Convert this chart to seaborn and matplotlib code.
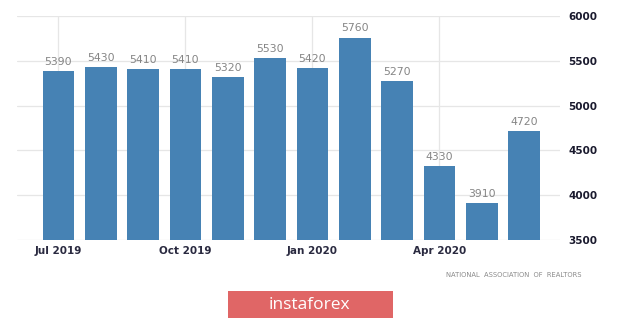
import matplotlib
matplotlib.use("Agg")
import matplotlib.pyplot as plt
import seaborn as sns
import pandas as pd
from matplotlib.patches import Rectangle

months = ["Jul 2019", "Aug 2019", "Sep 2019", "Oct 2019", "Nov 2019", "Dec 2019",
          "Jan 2020", "Feb 2020", "Mar 2020", "Apr 2020", "May 2020", "Jun 2020"]
values = [5390, 5430, 5410, 5410, 5320, 5530, 5420, 5760, 5270, 4330, 3910, 4720]
tick_months = ["Jul 2019", "Oct 2019", "Jan 2020", "Apr 2020"]
yticks = [3500, 4000, 4500, 5000, 5500, 6000]

df = pd.DataFrame({"month": months, "value": values})

sns.set_style("white")
plt.rcParams['font.family'] = ['DejaVu Sans']

fig = plt.figure(figsize=(6.2, 3.2), dpi=100)
ax = fig.add_axes([17/620, 1-240/320, (560-17)/620, (240-16)/320])

sns.barplot(data=df, x="month", y="value", color="#4682b4", width=0.75,
            saturation=1, ax=ax, zorder=2, edgecolor="none", linewidth=0)
ax.set_ylim(3500, 6000)
ax.set_xlim(-0.98, 11.85)

for i, v in enumerate(values):
    ax.text(i, v + 45, str(v), ha="center", va="bottom", fontsize=7.8, color="#858585")

ax.set_yticks(yticks)
ax.yaxis.tick_right()
ax.tick_params(axis="y", length=0, pad=6, labelsize=7.5, labelcolor="#1a1a2e")
ax.set_yticklabels([str(t) for t in yticks], fontweight="bold")
for t in yticks:
    ax.axhline(t, color="#e6e6e6", lw=0.9, zorder=0)

tick_pos = [months.index(m) for m in tick_months]
ax.set_xticks(tick_pos)
ax.set_xticklabels(tick_months, fontsize=7.5, fontweight="bold", color="#2a2a40")
ax.tick_params(axis="x", length=0, pad=4)
for p in tick_pos:
    ax.axvline(p, color="#e6e6e6", lw=0.9, zorder=0)

ax.set_xlabel("")
ax.set_ylabel("")
for s in ax.spines.values():
    s.set_visible(False)

fig.text(582/620, 1-275/320, "NATIONAL  ASSOCIATION  OF  REALTORS",
         ha="right", va="center", fontsize=4.9, color="#8a8a8a")

fig.patches.append(Rectangle((228/620, 1-318/320), (393-228)/620, (318-291)/320,
                             transform=fig.transFigure, facecolor="#e06666",
                             edgecolor="none", zorder=5))
fig.text(309/620, 1-305/320, "instaforex", ha="center", va="center", fontsize=12.5,
         color="white", zorder=6, family="Open Sans")

fig.savefig("out.png", dpi=100)
